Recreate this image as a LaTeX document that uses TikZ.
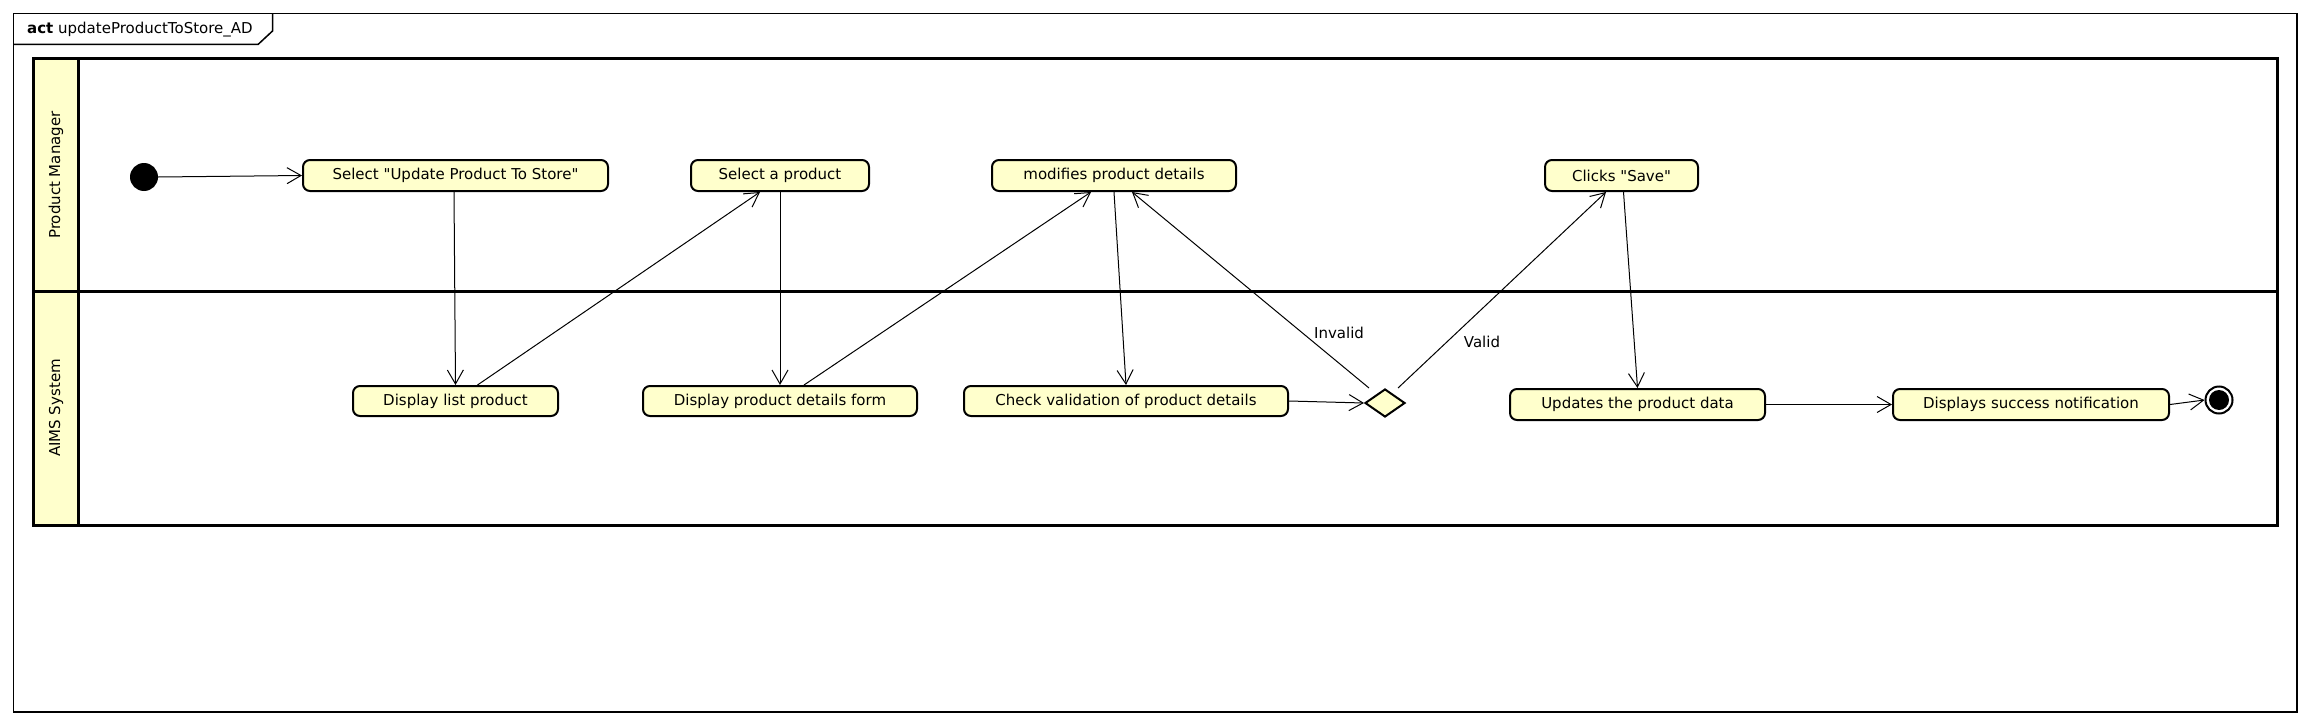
\documentclass[tikz,border=0pt]{standalone}
\usepackage{fontspec}
\setmainfont{DejaVu Sans}[Ligatures=TeXOff]
\usetikzlibrary{arrows.meta,shapes.geometric,calc}
\definecolor{actfill}{RGB}{255,255,204}
\begin{document}
\begin{tikzpicture}[x=1pt,y=-1pt,
  actbox/.style={draw, line width=2pt, fill=actfill, rounded corners=7pt, font=\fontsize{15}{18}\selectfont, inner sep=0pt, minimum height=31pt},
  flow/.style={line width=1pt, -{Straight Barb[length=14pt,width=16pt]}},
  lbl/.style={font=\fontsize{15}{18}\selectfont, inner sep=0pt},
  lane/.style={line width=3pt},
]
\useasboundingbox (0,0) rectangle (2310,725);
% frame
\draw[line width=1.5pt] (13.5,13.5) rectangle (2297,712);
\draw[line width=1.5pt] (13.5,44.5) -- (258,44.5) -- (272.5,31) -- (272.5,13.5);
\node[anchor=west, lbl] (title) at (27,29.5) {\textbf{act} updateProductToStore\_AD};
% swimlanes
\fill[actfill] (33,59) rectangle (78,525);
\draw[lane] (33,59) rectangle (2277,525);
\draw[lane] (78,59) -- (78,525);
\draw[lane] (33,291) -- (2277,291);
\node[lbl, rotate=90] (pm) at (56,175) {Product Manager};
\node[lbl, rotate=90] (aims) at (56,408) {AIMS System};
% nodes
\node[circle, fill=black, minimum size=28pt, inner sep=0pt] (init) at (144,177) {};
\node[actbox, minimum width=305pt] (sel1) at (455.5,175.5) {Select "Update Product To Store"};
\node[actbox, minimum width=205pt, minimum height=30pt] (list) at (455.5,401) {Display list product};
\node[actbox, minimum width=178pt] (selp) at (780,175.5) {Select a product};
\node[actbox, minimum width=274pt, minimum height=30pt] (form) at (780,401) {Display product details form};
\node[actbox, minimum width=244pt] (mod) at (1114,175.5) {modifies product details};
\node[actbox, minimum width=324pt, minimum height=30pt] (check) at (1126,401) {Check validation of product details};
\node[diamond, draw, line width=2pt, fill=actfill, minimum width=40pt, minimum height=28pt, inner sep=0pt] (dec) at (1385,403) {};
\node[actbox, minimum width=153pt] (save) at (1621.5,175.5) {Clicks "Save"};
\node[actbox, minimum width=255pt] (upd) at (1637.5,404.5) {Updates the product data};
\node[actbox, minimum width=276pt] (disp) at (2031,404.5) {Displays success notification};
\node[circle, draw, line width=2pt, fill=white, minimum size=27pt, inner sep=0pt] (final) at (2219,400) {};
\node[circle, fill=black, minimum size=20pt, inner sep=0pt] (finalin) at (final.center) {};
% labels
\node[lbl] (invl) at (1339,333) {Invalid};
\node[lbl] (vl) at (1482,342) {Valid};
% edges
\draw[flow] (init.east) -- (sel1.west);
\draw[flow] ([xshift=-1.5pt]sel1.south) -- (list.north);
\draw[flow] ([xshift=22pt]list.north) -- ([xshift=-20pt]selp.south);
\draw[flow] (selp.south) -- (form.north);
\draw[flow] ([xshift=24pt]form.north) -- ([xshift=-23pt]mod.south);
\draw[flow] (mod.south) -- (check.north);
\draw[flow] (check.east) -- (dec.west);
\draw[flow] ([xshift=-16pt]dec.north) -- ([xshift=18pt]mod.south);
\draw[flow] ([xshift=13pt]dec.north) -- ([xshift=-15.5pt]save.south);
\draw[flow] ([xshift=2pt]save.south) -- (upd.north);
\draw[flow] (upd.east) -- (disp.west);
\draw[flow] (disp.east) -- (final.west);
\end{tikzpicture}
\end{document}
